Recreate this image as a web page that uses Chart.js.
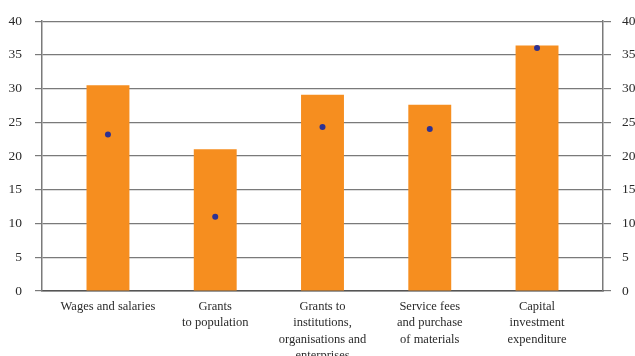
<!DOCTYPE html>
<html lang="en">

<head>
    <meta charset="UTF-8">
    <meta name="viewport" content="width=device-width, initial-scale=1.0">
    <script src="https://cdn.jsdelivr.net/npm/chart.js"></script>
    <style>
        html, body {
            margin: 0;
            padding: 0;
            background: #ffffff;
            overflow: hidden;
            width: 635px;
            height: 356px;
        }

        canvas {
            display: block;
        }
    </style>
    <title>Expenditure structure</title>
</head>

<body>
    <canvas id="myChart" width="636" height="371"></canvas>

    <script>
        // categories (multi-line labels)
        var categories = [
            ['Wages and salaries'],
            ['Grants', 'to population'],
            ['Grants to', 'institutions,', 'organisations and', 'enterprises'],
            ['Service fees', 'and purchase', 'of materials'],
            ['Capital', 'investment', 'expenditure']
        ];
        var barValues = [30.5, 21.0, 29.1, 27.6, 36.4];
        var dotValues = [23.2, 11.0, 24.3, 24.0, 36.0];
        var yTicks = [0, 5, 10, 15, 20, 25, 30, 35, 40];

        var gridColor = '#7a7a7a';
        var textColor = '#2a2a2a';
        var serif = "'Liberation Serif', 'Times New Roman', serif";

        var barPoints = barValues.map(function (v, i) { return { x: i, y: v }; });
        var dotPoints = dotValues.map(function (v, i) { return { x: i, y: v }; });

        function setTicks(scale) {
            scale.ticks = yTicks.map(function (v) { return { value: v }; });
        }

        var ctx = document.getElementById('myChart').getContext('2d');
        var myChart = new Chart(ctx, {
            type: 'bar',
            data: {
                datasets: [{
                    type: 'line',
                    data: dotPoints,
                    showLine: false,
                    yAxisID: 'y1',
                    pointRadius: 3,
                    pointBackgroundColor: '#2e3192',
                    pointBorderColor: '#2e3192',
                    pointBorderWidth: 0,
                    order: 0
                }, {
                    data: barPoints,
                    backgroundColor: '#f68e1f',
                    categoryPercentage: 1,
                    barPercentage: 0.4,
                    order: 1
                }]
            },
            options: {
                responsive: false,
                animation: false,
                layout: {
                    padding: { left: 0, right: 0, top: 19, bottom: 0 }
                },
                plugins: {
                    legend: { display: false },
                    tooltip: { enabled: false }
                },
                scales: {
                    x: {
                        type: 'linear',
                        offset: false,
                        min: -0.615,
                        max: 4.615,
                        afterBuildTicks: function (scale) {
                            scale.ticks = categories.map(function (c, i) { return { value: i }; });
                        },
                        // labels sit well inside the plot, no side padding needed
                        afterFit: function (scale) {
                            scale.paddingLeft = 0;
                            scale.paddingRight = 0;
                        },
                        grid: { display: false, drawTicks: false },
                        border: { display: true, color: '#555555', width: 1.5 },
                        ticks: {
                            autoSkip: false,
                            maxRotation: 0,
                            padding: 7,
                            color: textColor,
                            font: { family: serif, size: 12.5, lineHeight: 1.32 },
                            callback: function (v) { return categories[v]; }
                        }
                    },
                    y: {
                        position: 'left',
                        min: 0,
                        max: 40,
                        afterBuildTicks: setTicks,
                        afterFit: function (scale) { scale.width = 42; },
                        grid: { color: gridColor, lineWidth: 1.2, tickLength: 7 },
                        border: { color: gridColor, width: 1.5 },
                        ticks: {
                            padding: 13,
                            color: textColor,
                            font: { family: serif, size: 13.5 }
                        }
                    },
                    y1: {
                        position: 'right',
                        min: 0,
                        max: 40,
                        afterBuildTicks: setTicks,
                        afterFit: function (scale) { scale.width = 33; },
                        grid: { drawOnChartArea: false, color: gridColor, lineWidth: 1.2, tickLength: 8 },
                        border: { color: gridColor, width: 1.5 },
                        ticks: {
                            padding: 11,
                            color: textColor,
                            font: { family: serif, size: 13.5 }
                        }
                    }
                }
            }
        });
    </script>
</body>

</html>
